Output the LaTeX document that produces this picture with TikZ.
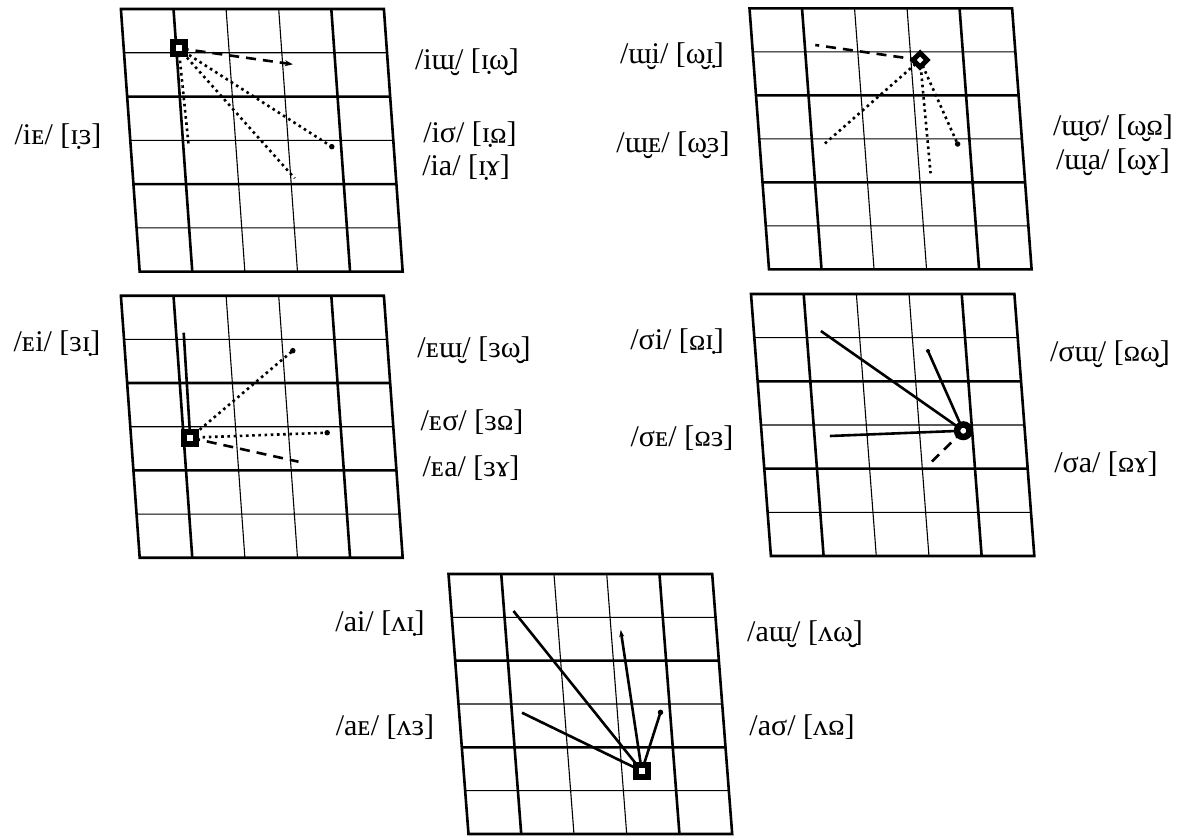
\documentclass[tikz,border=0pt]{standalone}
\usepackage{fontspec}
\usepackage{graphicx}
\setmainfont{Liberation Serif}
\usetikzlibrary{arrows.meta}
\newcommand\invu{\rotatebox[origin=c]{180}{ʊ}}
\newcommand\vgrid[5]{%
\begin{scope}[shift={(#1,#2)}, x={(#3pt,0pt)}, y={(#5pt,-#4pt)}]
 \draw[thinl] (0,1)--(5,1) (0,3)--(5,3) (0,5)--(5,5) (2,0)--(2,6) (3,0)--(3,6);
 \draw[thickl] (0,2)--(5,2) (0,4)--(5,4) (1,0)--(1,6) (4,0)--(4,6);
 \draw[thickl, line join=miter] (0,0)--(5,0)--(5,6)--(0,6)--cycle;
\end{scope}}
\begin{document}
\begin{tikzpicture}[x=1pt,y=-1pt,
 thinl/.style={line width=1.1pt},
 thickl/.style={line width=2.6pt},
 lab/.style={font=\fontsize{30}{35}\selectfont, inner sep=0pt},
 con/.style={line width=2.6pt},
 dashcon/.style={line width=2.6pt, dash pattern=on 10pt off 7pt},
 dotcon/.style={line width=2.6pt, dash pattern=on 2.6pt off 3.6pt},
 enddot/.style={circle, fill=black, inner sep=0pt, minimum size=5.5pt},
 smalldot/.style={circle, fill=black, inner sep=0pt, minimum size=4pt},
 tip/.style={-{Stealth[length=8pt,width=6pt]}},
 sqmark/.style={rectangle, draw=black, fill=white, line width=6pt, minimum size=12pt, inner sep=0pt},
 dmmark/.style={rectangle, rotate=45, draw=black, fill=white, line width=5pt, minimum size=10pt, inner sep=0pt},
 cmark/.style={circle, draw=black, fill=white, line width=6.5pt, minimum size=12.5pt, inner sep=0pt},
]
\useasboundingbox (0,0) rectangle (1189,836);

% grids
\vgrid{120.9}{9}{52.6}{43.78}{3.13}
\vgrid{749.5}{8.3}{52.52}{43.5}{3.25}
\vgrid{120.9}{295.7}{52.6}{43.67}{3.13}
\vgrid{751}{294}{52.68}{43.67}{3.32}
\vgrid{448.5}{574}{52.74}{43.33}{3.33}

% panel 1
\coordinate (a0) at (178.7,48.3);
\coordinate (a1) at (292.8,64.3);
\node[enddot] (a2) at (331.8,146.7) {};
\coordinate (a3) at (294.7,178.3);
\coordinate (a4) at (188.7,145.7);
\draw[dashcon, tip] (a0) -- (a1);
\draw[dotcon] (a0) -- (a2.center);
\draw[dotcon] (a0) -- (a3);
\draw[dotcon] (a0) -- (a4);
\node[sqmark] (m1) at (a0) {};
\node[lab] (l11) at (467,62) {/iɯ̮/ [ɪ̣ω̮]};
\node[lab] (l12) at (470,135) {/iσ/ [ɪ̣\invu]};
\node[lab] (l13) at (466,168) {/ia/ [ɪ̣ɤ]};
\node[lab] (l14) at (58,137) {/iᴇ/ [ɪ̣ɜ]};

% panel 2
\coordinate (b0) at (920.1,60);
\coordinate (b1) at (815.3,45);
\coordinate (b2) at (822.4,145.7);
\coordinate (b3) at (930.6,173.3);
\node[enddot] (b4) at (957.6,144) {};
\draw[dashcon] (b0) -- (b1);
\draw[dotcon] (b0) -- (b2);
\draw[dotcon] (b0) -- (b3);
\draw[dotcon] (b0) -- (b4.center);
\node[dmmark] (m2) at (b0) {};
\node[lab] (l21) at (672,56) {/ɯ̮i/ [ω̮ɪ̣]};
\node[lab] (l22) at (673,145) {/ɯ̮ᴇ/ [ω̮ɜ]};
\node[lab] (l23) at (1113,128) {/ɯ̮σ/ [ω̮\invu]};
\node[lab] (l24) at (1113,162) {/ɯ̮a/ [ω̮ɤ]};

% panel 3
\coordinate (c0) at (190.2,437.7);
\coordinate (c1) at (183.7,332.7);
\node[enddot] (c2) at (292.8,350.7) {};
\node[enddot] (c3) at (327.2,432.7) {};
\coordinate (c4) at (298.5,461.7);
\draw[con] (c0) -- (c1);
\draw[dotcon] (c0) -- (c2.center);
\draw[dotcon] (c0) -- (c3.center);
\draw[dashcon] (c0) -- (c4);
\node[sqmark] (m3) at (c0) {};
\node[lab] (l31) at (57,344) {/ᴇi/ [ɜɪ̣]};
\node[lab] (l32) at (474,350) {/ᴇɯ̮/ [ɜω̮]};
\node[lab] (l33) at (472,422) {/ᴇσ/ [ɜ\invu]};
\node[lab] (l34) at (471,468) {/ᴇa/ [ɜɤ]};

% panel 4
\coordinate (d0) at (963.3,430.7);
\coordinate (d1) at (820.9,331);
\node[smalldot] (d2) at (928,351) {};
\coordinate (d3) at (829.9,436);
\coordinate (d4) at (931.7,461.7);
\draw[con] (d0) -- (d1);
\draw[con] (d0) -- (d2.center);
\draw[con] (d0) -- (d3);
\draw[dashcon] (d0) -- (d4);
\node[cmark] (m4) at (d0) {};
\node[lab] (l41) at (677,342) {/σi/ [\invu ɪ̣]};
\node[lab] (l42) at (1110,354) {/σɯ̮/ [\invu ω̮]};
\node[lab] (l43) at (682,438) {/σᴇ/ [\invu ɜ]};
\node[lab] (l44) at (1106,464) {/σa/ [\invu ɤ]};

% panel 5
\coordinate (e0) at (641.8,771);
\coordinate (e1) at (513.5,611);
\coordinate (e2) at (620.7,630);
\coordinate (e3) at (522,712.7);
\node[enddot] (e4) at (660.5,712.3) {};
\draw[con] (e0) -- (e1);
\draw[con, -{Stealth[length=7pt,width=5pt]}] (e0) -- (e2);
\draw[con] (e0) -- (e3);
\draw[con] (e0) -- (e4.center);
\node[sqmark] (m5) at (e0) {};
\node[lab] (l51) at (380,624) {/ai/ [ʌɪ̣]};
\node[lab] (l52) at (805,634) {/aɯ̮/ [ʌω̮]};
\node[lab] (l53) at (385,727) {/aᴇ/ [ʌɜ]};
\node[lab] (l54) at (802,727) {/aσ/ [ʌ\invu]};
\end{tikzpicture}
\end{document}
